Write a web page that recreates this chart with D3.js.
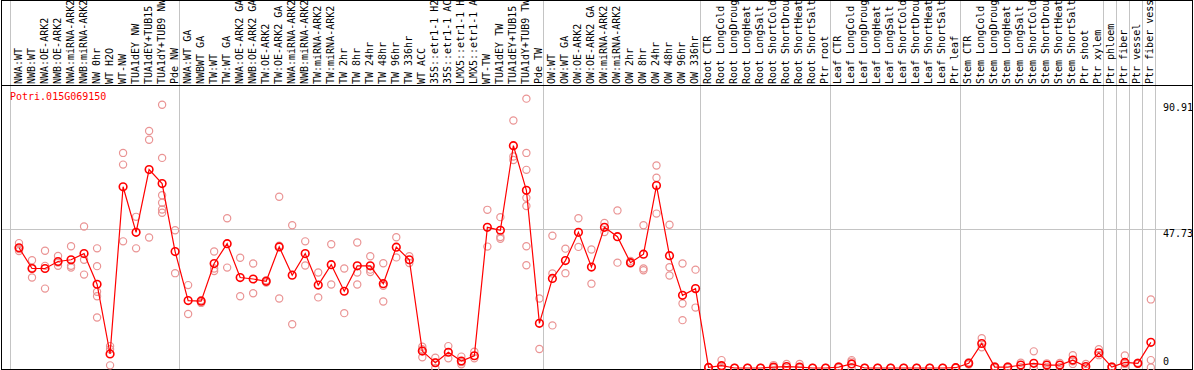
<!DOCTYPE html>
<html><head><meta charset="utf-8">
<script src="https://cdn.jsdelivr.net/npm/d3@7"></script>
<style>html,body{margin:0;padding:0;background:#fff;overflow:hidden}svg{display:block}</style>
</head><body>
<svg id="c" width="1194" height="370"></svg>
<script>
const geneName = "Potri.015G069150";
const categories = [
 "NWA:WT","NWB:WT","NWA:OE-ARK2","NWB:OE-ARK2","NWA:miRNA-ARK2","NWB:miRNA-ARK2","NW 0hr","WT H2O","WT-NW","TUA1dEY NW","TUA1dEY+TUB15 NW","TUA1dY+TUB9 NW","Pde NW",
 "NWA:WT GA","NWBWT GA","TW:WT","TW:WT GA","NWA:OE-ARK2 GA","NWB:OE-ARK2 GA","TW:OE-ARK2","TW:OE-ARK2 GA","NWA:miRNA-ARK2","NWB:miRNA-ARK2","TW:miRNA-ARK2","TW:miRNA-ARK2","TW 2hr","TW 8hr","TW 24hr","TW 48hr","TW 96hr","TW 336hr","WT ACC","35S::etr1-1 H2O","35S::etr1-1 ACC","LMX5::etr1-1 H2O","LMX5::etr1-1 ACC","WT-TW","TUA1dEY TW","TUA1dEY+TUB15 TW","TUA1dY+TUB9 TW","Pde TW",
 "OW:WT","OW:WT GA","OW:OE-ARK2","OW:OE-ARK2 GA","OW:miRNA-ARK2","OW:miRNA-ARK2","OW 2hr","OW 8hr","OW 24hr","OW 48hr","OW 96hr","OW 336hr",
 "Root CTR","Root LongCold","Root LongDrought","Root LongHeat","Root LongSalt","Root ShortCold","Root ShortDrought","Root ShortHeat","Root ShortSalt","Ptr root",
 "Leaf CTR","Leaf LongCold","Leaf LongDrought","Leaf LongHeat","Leaf LongSalt","Leaf ShortCold","Leaf ShortDrought","Leaf ShortHeat","Leaf ShortSalt","Ptr leaf",
 "Stem CTR","Stem LongCold","Stem LongDrought","Stem LongHeat","Stem LongSalt","Stem ShortCold","Stem ShortDrought","Stem ShortHeat","Stem ShortSalt","Ptr shoot","Ptr xylem",
 "Ptr phloem","Ptr fiber","Ptr vessel","Ptr fiber vessel"
];
// index where each group starts (last entry = end)
const groupStarts = [0,13,41,53,63,73,84,85,86,87,88];
const means = [
 41.2,34.1,34.1,36.5,37.1,39.2,28.7,4.8,62.1,46.5,68.0,63.2,39.9,
 23.1,22.9,35.8,42.6,31.0,30.5,29.7,41.5,31.8,39.2,28.4,35.4,26.3,35.0,35.0,28.9,41.4,37.1,5.8,1.8,5.4,2.4,4.2,48.2,47.2,76.2,60.9,15.3,
 30.7,36.8,46.5,34.6,48.2,45.0,36.1,39.0,62.5,38.5,24.9,27.2,
 0.2,0.8,0,0,0,0.3,0.5,0.3,0,0,
 0.3,1.4,0,0,0,0,0,0,0,0.1,
 1.6,8.4,0.3,0.3,1.0,1.6,1.0,1.0,2.7,0.5,5.2,
 0.3,1.9,1.6,8.8
];
const replicates = [
 [42.8,40.8,40.1],[36.9,34.3,31.0],[40.2,35.0,27.2],[38.4,36.1,35.0],[41.7,35.0,34.4],[48.5,37.1,32.0],[41.0,34.9,26.1,24.6,17.3],[7.5,6.4,0.9],[73.7,69.7,43.4],[51.8,41.0],[81.2,78.2,44.7],[90.2,72.0,59.2,56.6,54.3,53.2],[47.2,32.5],
 [28.4,18.5],[23.2,22.3],[39.9,34.1,33.2],[51.3,34.4],[37.8,24.6],[35.8,25.6],[30.1,29.3],[58.7,41.9,23.8],[48.9,15.0],[43.4,35.1],[32.7,24.2],[42.4,28.6],[34.1,18.8],[43.0,32.7,28.6],[38.3,33.7,32.9],[35.9,28.2,22.8],[44.8,37.9],[38.3,36.0],[7.3,6.4,3.7],[3.5,1.9,0],[7.5,3.3],[3.9,2.0,1.3],[5.6,3.3],[54.2,41.6],[51.7,44.9,44.3],[84.8,72.5,71.3],[92.3,73.7,67.9,58.3,55.5,41.7,35.2],[23.8,6.5],
 [45.3,32.4,14.6],[40.9,32.5],[51.3,41.5],[40.6,28.9],[49.7,46.6],[54.0,36.1],[36.7,35.8],[48.9,34.1,33.5],[69.4,65.2,52.9],[49.1,34.5,31.7],[35.8,22.1,16.4],[33.7,20.7],
 [0.3,0.1],[2.7,0],[0,0],[0,0],[0,0],[1.0,0],[1.4,0],[1.4,0],[0,0],[0,0],
 [0.5,0],[2.7,2.2,0],[0,0],[0,0],[0,0],[0,0],[0,0],[0,0],[0,0],[0.2,0],
 [2.0,1.2],[10.2,7.1],[0.5,0],[0.5,0],[1.8,0.3],[5.7,0,0],[1.6,0.4],[1.7,0.3],[4.4,1.4,2.3],[1.4,0],[6.4,4.4],
 [0.5,0],[4.3,1.4,0],[1.8,1.4],[23.5,2.7,0.2]
];
const yTicks = [0, 47.73, 90.91];

const W = 1194, H = 370;
const svg = d3.select("#c");
const font = "'DejaVu Sans Mono', monospace";

const idx = d3.range(categories.length);
const xb = d3.scaleBand().domain(idx).range([10, 10 + 13.01 * categories.length]).paddingInner(0).paddingOuter(0);
const px = i => xb(i) + 9;
const xEdge = k => k < categories.length ? xb(k) : xb(categories.length - 1) + xb.bandwidth();
const y = d3.scaleLinear().domain([0, 90.91]).range([368, 102.7]);

svg.append("rect").attr("width", W).attr("height", H).attr("fill", "#fff");

// horizontal gridline at middle tick
svg.append("line").attr("x1", 1).attr("x2", 1193)
  .attr("y1", Math.round(y(yTicks[1])) + 0.5).attr("y2", Math.round(y(yTicks[1])) + 0.5)
  .attr("stroke", "#c4c4c4").attr("stroke-width", 1);

// group separators
svg.append("g").selectAll("line").data(groupStarts).join("line")
  .attr("x1", d => Math.round(xEdge(d)) + 0.5).attr("x2", d => Math.round(xEdge(d)) + 0.5)
  .attr("y1", 0).attr("y2", 369)
  .attr("stroke", "#c4c4c4").attr("stroke-width", 1);

// frame
const frame = svg.append("g").attr("stroke", "#000").attr("stroke-width", 1);
frame.append("line").attr("x1", 1.5).attr("x2", 1.5).attr("y1", 0).attr("y2", 370);
frame.append("line").attr("x1", 1192.5).attr("x2", 1192.5).attr("y1", 0).attr("y2", 370);
frame.append("line").attr("x1", 1).attr("x2", 1193).attr("y1", 0.5).attr("y2", 0.5);
frame.append("line").attr("x1", 1).attr("x2", 1193).attr("y1", 85.5).attr("y2", 85.5);
frame.append("line").attr("x1", 1).attr("x2", 1193).attr("y1", 369.5).attr("y2", 369.5);

// category labels
svg.append("g").selectAll("text").data(idx).join("text")
  .attr("transform", i => `translate(${px(i) + 2.5},84) rotate(-90)`)
  .attr("font-family", font).attr("font-size", 10).attr("fill", "#000")
  .text(i => categories[i]);

// y tick labels
svg.append("g").selectAll("text").data(yTicks).join("text")
  .attr("x", 1163)
  .attr("y", d => d === 0 ? y(d) - 3 : y(d) + 8.5)
  .attr("font-family", font).attr("font-size", 10).attr("fill", "#000")
  .text(d => d === 0 ? "0" : d3.format(".2f")(d));

// gene name
svg.append("text").attr("x", 10).attr("y", 100)
  .attr("font-family", font).attr("font-size", 10).attr("fill", "#ff0000")
  .text(geneName);

// replicates
const reps = [];
replicates.forEach((r, i) => r.forEach(v => reps.push({i, v})));
svg.append("g").selectAll("circle").data(reps).join("circle")
  .attr("cx", d => px(d.i)).attr("cy", d => y(d.v)).attr("r", 3.6)
  .attr("fill", "none").attr("stroke", "#ea9494").attr("stroke-width", 1.2);

// mean line
svg.append("path").datum(idx)
  .attr("d", d3.line().x(i => px(i)).y(i => y(means[i])))
  .attr("fill", "none").attr("stroke", "#ff0000").attr("stroke-width", 1.2);

// mean markers
svg.append("g").selectAll("circle").data(idx).join("circle")
  .attr("cx", i => px(i)).attr("cy", i => y(means[i])).attr("r", 3.8)
  .attr("fill", "none").attr("stroke", "#ff0000").attr("stroke-width", 1.6);
</script>
</body></html>
